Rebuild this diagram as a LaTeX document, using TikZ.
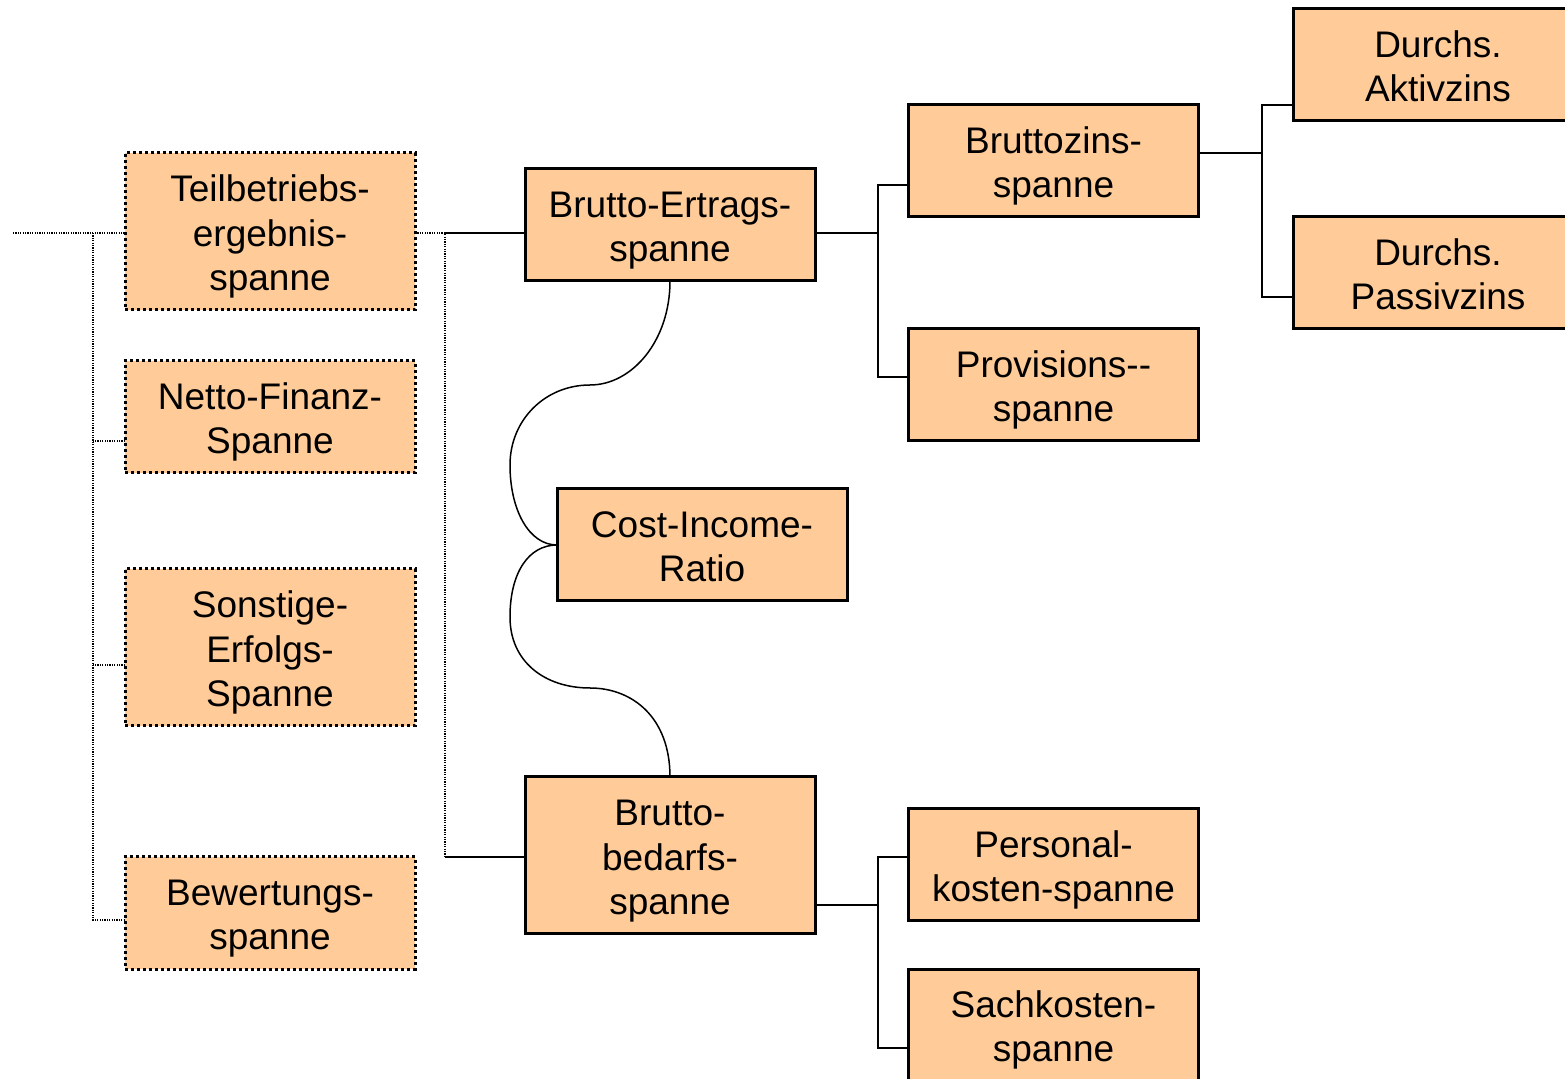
\documentclass[tikz,border=0pt]{standalone}
\usepackage{fontspec}
\setmainfont{Liberation Sans}
\definecolor{boxfill}{HTML}{FFCC99}
\newcommand\boxtopstrut{\rule{0pt}{18.5pt}}
\newcommand\boxbotstrut{\rule[-3.9pt]{0pt}{0pt}}
\begin{document}
\begin{tikzpicture}[x=0.5pt,y=-0.5pt,
  box/.style={draw=black, fill=boxfill, line width=1.5pt, minimum width=145pt,
    minimum height=56pt, align=center, inner sep=0pt, outer sep=0pt,
    font=\fontsize{18.5pt}{22.3pt}\selectfont},
  tallbox/.style={minimum height=78.5pt},
  dotbox/.style={box, dash pattern=on 1.5pt off 1.5pt},
  link/.style={line width=0.75pt},
  dlink/.style={line width=0.6pt, dash pattern=on 0.6pt off 0.6pt}]
\useasboundingbox (0,0) rectangle (1565,1079);
\clip (0,0) rectangle (1565,1079);

% left column (dotted)
\node[dotbox, tallbox] (teil)  at (270,231.5) {\boxtopstrut Teilbetriebs-\\ergebnis-\\spanne\boxbotstrut};
\node[dotbox]          (netto) at (270,417)   {\boxtopstrut Netto-Finanz-\\Spanne\boxbotstrut};
\node[dotbox, tallbox] (sonst) at (270,647.5) {\boxtopstrut Sonstige-\\Erfolgs-\\Spanne\boxbotstrut};
\node[dotbox]          (bew)   at (270,913)   {\boxtopstrut Bewertungs-\\spanne\boxbotstrut};

% middle column
\node[box]          (ertrag) at (670,225)   {\boxtopstrut Brutto-Ertrags-\\spanne\boxbotstrut};
\node[box]          (cir)    at (702,545)   {\boxtopstrut Cost-Income-\\Ratio\boxbotstrut};
\node[box, tallbox] (bedarf) at (670,855.5) {\boxtopstrut Brutto-\\bedarfs-\\spanne\boxbotstrut};

% right columns
\node[box] (zins)   at (1053.5,161)  {\boxtopstrut Bruttozins-\\spanne\boxbotstrut};
\node[box] (prov)   at (1053.5,385)  {\boxtopstrut Provisions-{}-\\spanne\boxbotstrut};
\node[box] (aktiv)  at (1438,65)     {\boxtopstrut Durchs.\\Aktivzins\boxbotstrut};
\node[box] (passiv) at (1438,273)    {\boxtopstrut Durchs.\\Passivzins\boxbotstrut};
\node[box] (pers)   at (1053.5,865)  {\boxtopstrut Personal-\\kosten-spanne\boxbotstrut};
\node[box] (sach)   at (1053.5,1025) {\boxtopstrut Sachkosten-\\spanne\boxbotstrut};

% left dotted tree
\coordinate (lstart) at (13,233);
\coordinate (lj) at (93,233);
\draw[dlink] (lstart) -- ([yshift=-0.75pt]teil.west);
\draw[dlink] (lj) |- ([yshift=-3.5pt]bew.west);
\draw[dlink] ([yshift=-12pt]netto.west) -- +(-32,0);
\draw[dlink] ([yshift=-8.75pt]sonst.west) -- +(-32,0);

% right dotted/solid tree
\coordinate (rj) at (445,233);
\coordinate (rj2) at (445,857);
\draw[dlink] ([yshift=-0.75pt]teil.east) -- (rj) -- (rj2);
\draw[link] (rj) -- ([yshift=-4pt]ertrag.west);
\draw[link] (rj2) -- ([yshift=-0.75pt]bedarf.west);

% Brutto-Ertrags tree
\draw[link] ([yshift=-4pt]ertrag.east) -- +(63,0);
\draw[link] ([yshift=-12pt]zins.west) -- +(-30.5,0) |- ([yshift=4pt]prov.west);

% Bruttozins tree
\draw[link] ([yshift=4pt]zins.east) -- +(63.5,0);
\draw[link] ([yshift=-20pt]aktiv.west) -- +(-31,0) |- ([yshift=-12pt]passiv.west);

% Bruttobedarf tree
\draw[link] ([yshift=-24.75pt]bedarf.east) -- +(63,0);
\draw[link] ([yshift=4pt]pers.west) -- +(-30.5,0) |- ([yshift=-11.5pt]sach.west);

% curves to Cost-Income-Ratio
\draw[link] (ertrag.south) .. controls +(0,60) and +(42,0) .. (590,385)
  .. controls +(-45,0) and +(0,-45) .. (510,465)
  .. controls +(0,45) and +(-28,0) .. (cir.west);
\draw[link] (cir.west) .. controls +(-28,0) and +(0,-45) .. (510,617)
  .. controls +(0,45) and +(-45,0) .. (590,688)
  .. controls +(42,0) and +(0,-60) .. (bedarf.north);
\end{tikzpicture}
\end{document}
